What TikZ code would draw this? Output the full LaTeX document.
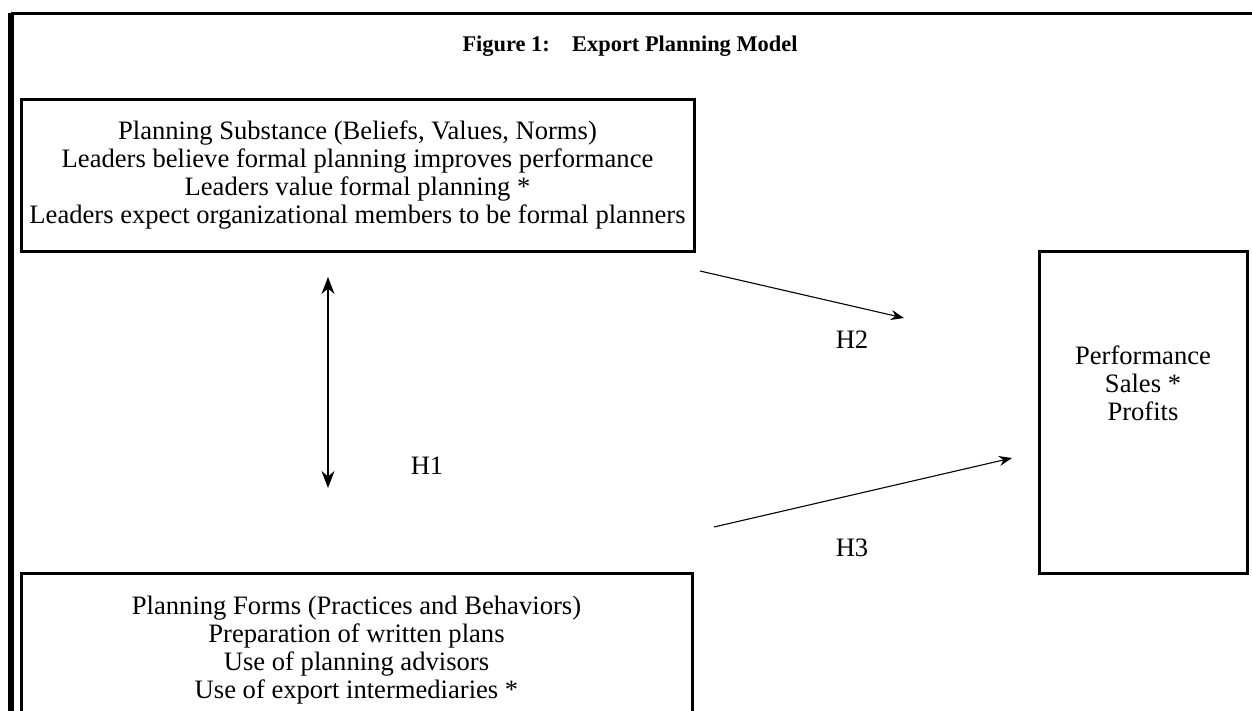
\documentclass[tikz,border=0pt]{standalone}
\usepackage{fontspec}
\setmainfont{Liberation Serif}
\usetikzlibrary{arrows.meta}

\tikzset{
  box/.style={draw, line width=1.5pt, rectangle, inner sep=0pt},
  txt/.style={align=center, inner sep=0pt, font=\fontsize{13.3}{14}\selectfont},
  link/.style={line width=0.55pt, -{Stealth[length=6.5pt,width=5pt]}},
  duallink/.style={line width=0.7pt, {Stealth[length=8.5pt,width=6.5pt]}-{Stealth[length=8.5pt,width=6.5pt]}},
}

\begin{document}
\begin{tikzpicture}[x=0.5pt, y=-0.5pt]
  \useasboundingbox (0,0) rectangle (1252,711);

  % page frame
  \draw[line width=1.5pt] (11,13.5) -- (1252,13.5);
  \draw[line width=3pt] (11,12.8) -- (11,711);

  % heading
  \node[txt, font=\fontsize{11.2}{14}\selectfont\bfseries] (title) at (630,46)
    {Figure 1:\hspace{1em}Export Planning Model};

  % planning substance
  \node[box, minimum width=336.5pt, minimum height=76pt] (subst) at (357.5,176) {};
  \node[txt] (substtext) at (357.5,175)
    {Planning Substance (Beliefs, Values, Norms)\\
     Leaders believe formal planning improves performance\\
     Leaders value formal planning *\\
     Leaders expect organizational members to be formal planners};

  % planning forms
  \node[box, minimum width=335.5pt, minimum height=76pt] (forms) at (356.5,649) {};
  \node[txt] (formstext) at (356.5,650)
    {Planning Forms (Practices and Behaviors)\\
     Preparation of written plans\\
     Use of planning advisors\\
     Use of export intermediaries *};

  % performance
  \node[box, minimum width=104pt, minimum height=160.5pt] (perf) at (1143,412.5) {};
  \node[txt] (perftext) at (1143,383)
    {Performance\\ Sales *\\ Profits};

  % arrow end points
  \coordinate (h1top) at (328,277);
  \coordinate (h1bot) at (328,488);
  \coordinate (h2from) at (700,271);
  \coordinate (h2to) at (904,318);
  \coordinate (h3from) at (714,527);
  \coordinate (h3to) at (1012,458);

  \draw[duallink] (h1top) -- (h1bot);
  \draw[link] (h2from) -- (h2to);
  \draw[link] (h3from) -- (h3to);

  % hypothesis labels
  \node[txt] (h1) at (427,466) {H1};
  \node[txt] (h2) at (852,340) {H2};
  \node[txt] (h3) at (852,548) {H3};
\end{tikzpicture}
\end{document}
